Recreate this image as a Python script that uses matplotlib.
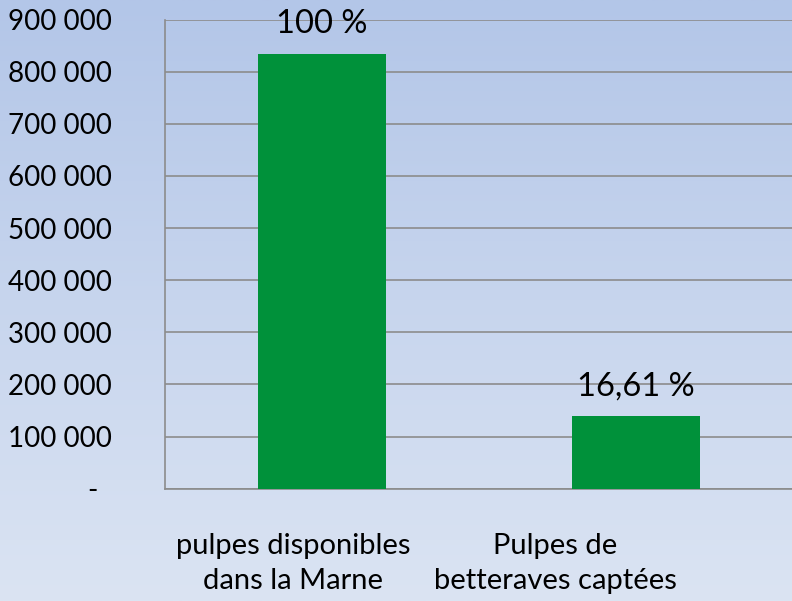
import numpy as np
import matplotlib.pyplot as plt
from matplotlib.colors import LinearSegmentedColormap
from matplotlib.ticker import FuncFormatter

# data
categories = ["pulpes disponibles\ndans la Marne", "Pulpes de\nbetteraves captées"]
tonnages = [834000, 138500]
pct_labels = ["100 %", "16,61 %"]

plt.rcParams['font.family'] = ['Lato', 'DejaVu Sans']

fig = plt.figure(figsize=(7.92, 6.01), dpi=100)

# gradient background over the whole figure
bg = fig.add_axes([0, 0, 1, 1], zorder=-1)
grad = np.linspace(0, 1, 256).reshape(-1, 1)
cmap = LinearSegmentedColormap.from_list("bg", ["#b3c6e8", "#dbe4f3"])
bg.imshow(grad, aspect='auto', cmap=cmap, extent=[0, 1, 0, 1])
bg.axis('off')

ax = fig.add_axes([165 / 792, 1 - 488.7 / 601, 628 / 792, 469.2 / 601])
ax.set_facecolor('none')

x = np.arange(len(categories))
bars = ax.bar(x, tonnages, width=0.41, color='#00913a', zorder=3)

ax.set_xlim(-0.5, 1.5)
ax.set_ylim(0, 900000)
ax.set_yticks(np.arange(0, 900001, 100000))
ax.yaxis.set_major_formatter(FuncFormatter(
    lambda v, p: "-  " if v == 0 else f"{int(v):,}".replace(",", " ")))
ax.grid(axis='y', color='#8c8c8c', linewidth=1.2, zorder=1)

# category labels sit a bit left of the bars in the original
ax.set_xticks([-0.092, 0.742], categories, fontsize=21, linespacing=1.4)
ax.tick_params(axis='x', length=0, pad=32)
ax.tick_params(axis='y', length=0, pad=38, labelsize=20)

for b, lab in zip(bars, pct_labels):
    ax.annotate(lab, (b.get_x() + b.get_width() / 2, b.get_height()),
                xytext=(0, 11), textcoords='offset points',
                ha='center', va='bottom', fontsize=23.5)

for s in ['top', 'right']:
    ax.spines[s].set_visible(False)
for s in ['left', 'bottom']:
    ax.spines[s].set_color('#8c8c8c')
    ax.spines[s].set_linewidth(1.2)

fig.savefig("out.png", dpi=100)
